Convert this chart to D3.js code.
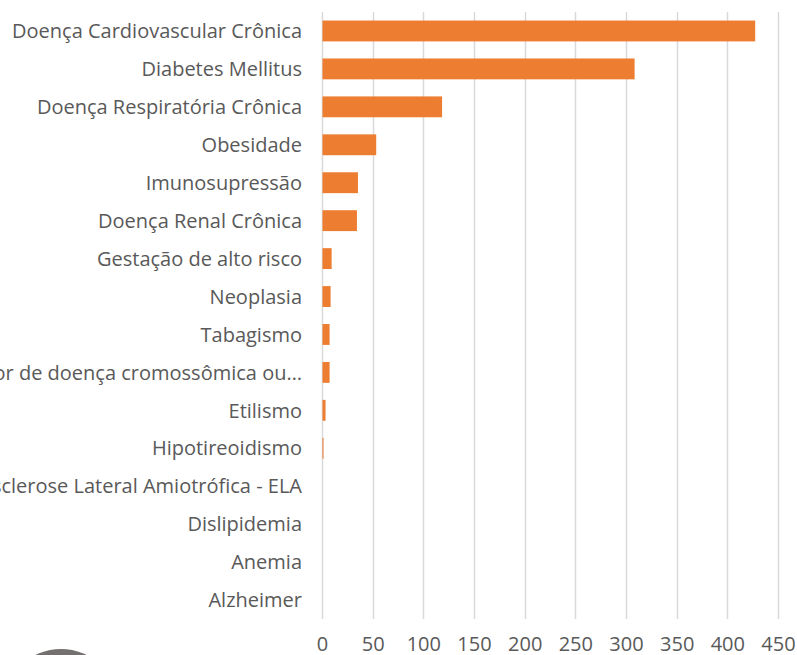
<!DOCTYPE html>
<html>
<head>
<meta charset="utf-8">
<script src="https://cdn.jsdelivr.net/npm/d3@7"></script>
<style>
  html, body { margin: 0; padding: 0; background: #fff; overflow: hidden; }
  svg { display: block; }
</style>
</head>
<body>
<svg id="chart" width="797" height="655"></svg>
<script>
/** Categories, top to bottom */
var categories = [
    "Doença Cardiovascular Crônica",
    "Diabetes Mellitus",
    "Doença Respiratória Crônica",
    "Obesidade",
    "Imunosupressão",
    "Doença Renal Crônica",
    "Gestação de alto risco",
    "Neoplasia",
    "Tabagismo",
    "Portador de doença cromossômica ou…",
    "Etilismo",
    "Hipotireoidismo",
    "Esclerose Lateral Amiotrófica - ELA",
    "Dislipidemia",
    "Anemia",
    "Alzheimer"
];

/** Values */
var values = [427, 308, 118, 53, 35, 34, 9, 8, 7, 7, 3, 1, 0, 0, 0, 0];

/** Axis ticks */
var tickValues = [0, 50, 100, 150, 200, 250, 300, 350, 400, 450];

var margin = {top: 12, left: 322, right: 19, bottom: 36},
    width = 797,
    height = 655;

var svg = d3.select("#chart");

var x = d3.scaleLinear()
    .domain([0, 450])
    .range([margin.left, width - margin.right]);

var y = d3.scaleBand()
    .domain(categories)
    .range([margin.top, height - margin.bottom])
    .paddingInner(0.45)
    .paddingOuter(0.225);

var fontFamily = "'Open Sans', sans-serif";
var textColor = "#595959";

// vertical gridlines
svg.append("g")
    .selectAll("line")
    .data(tickValues)
    .enter()
    .append("line")
    .attr("x1", function (d) { return Math.round(x(d)) + 0.5; })
    .attr("x2", function (d) { return Math.round(x(d)) + 0.5; })
    .attr("y1", margin.top)
    .attr("y2", height - margin.bottom)
    .attr("stroke", "#d9d9d9")
    .attr("stroke-width", 1.5);

// bars
svg.append("g")
    .selectAll("rect")
    .data(values)
    .enter()
    .append("rect")
    .attr("x", x(0) + 0.5)
    .attr("y", function (d, i) { return y(categories[i]); })
    .attr("width", function (d) { return Math.max(0, x(d) - x(0)); })
    .attr("height", y.bandwidth())
    .attr("fill", "#ed7d31");

// category labels
svg.append("g")
    .selectAll("text")
    .data(categories)
    .enter()
    .append("text")
    .attr("x", margin.left - 20)
    .attr("y", function (d) { return y(d) + y.bandwidth() / 2; })
    .attr("dy", "0.36em")
    .attr("text-anchor", "end")
    .attr("font-family", fontFamily)
    .attr("font-size", 20)
    .attr("fill", textColor)
    .text(function (d) { return d; });

// x axis tick labels
var xAxis = d3.axisBottom(x)
    .tickValues(tickValues)
    .tickSize(0)
    .tickPadding(0);

var axisG = svg.append("g")
    .attr("transform", "translate(0," + (height - margin.bottom) + ")")
    .call(xAxis);

axisG.select(".domain").remove();
axisG.selectAll("text")
    .attr("y", 32)
    .attr("dy", 0)
    .attr("font-family", fontFamily)
    .attr("font-size", 20)
    .attr("fill", textColor);

// grey circle partly visible at the bottom left
svg.append("circle")
    .attr("cx", 61)
    .attr("cy", 706)
    .attr("r", 57)
    .attr("fill", "#757070");
</script>
</body>
</html>
